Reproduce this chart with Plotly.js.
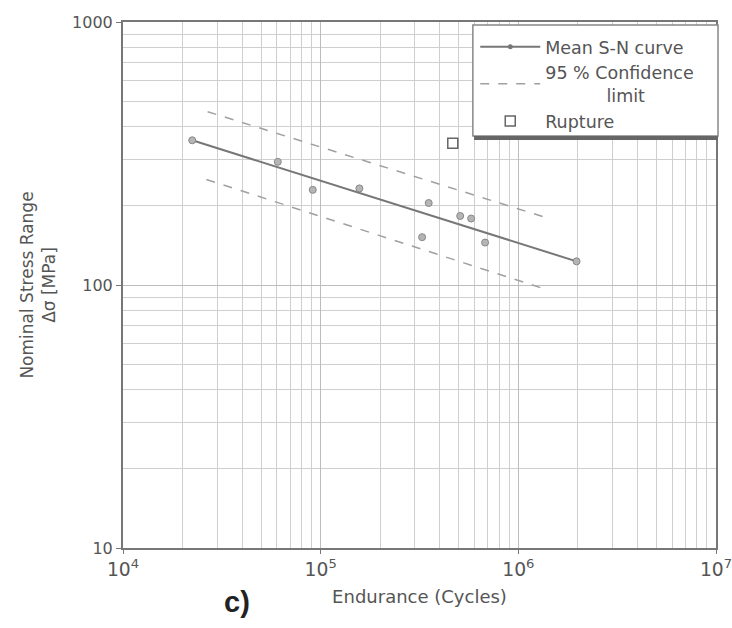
<!DOCTYPE html>
<html>
<head>
<meta charset="utf-8">
<script src="https://cdn.plot.ly/plotly-3.0.1.min.js"></script>
<style>html,body{margin:0;padding:0;background:#fff;}</style>
</head>
<body>
<div id="chart" style="width:732px;height:628px;"></div>
<script>
// Test data (endurance in cycles, stress range in MPa)
const dataCycles = [22400, 60700, 91200, 157000, 352000, 508000, 577000, 326000, 679000, 1970000];
const dataStress = [355, 294, 230, 233, 205, 183, 179, 152, 145, 123];
// Mean S-N curve
const meanCycles = [22400, 1970000];
const meanStress = [355, 123];
// 95 % confidence limits
const upperCycles = [26800, 1430000];
const upperStress = [456, 179];
const lowerCycles = [26400, 1390000];
const lowerStress = [252, 96];
// Rupture
const ruptureCycles = [466000];
const ruptureStress = [346];

const NB = '\u00a0';
const traces = [
  {x: meanCycles, y: meanStress, name: 'Mean S-N curve', mode: 'lines+markers',
   line: {color: '#777', width: 2}, marker: {size: 5, color: '#777'}},
  {x: upperCycles, y: upperStress, name: '95 % Confidence<br>' + NB.repeat(11) + 'limit', mode: 'lines',
   line: {color: '#a0a0a0', width: 1.5, dash: 'dash'}, legendgroup: 'ci'},
  {x: lowerCycles, y: lowerStress, name: 'lower', mode: 'lines', showlegend: false,
   line: {color: '#a0a0a0', width: 1.5, dash: 'dash'}, legendgroup: 'ci'},
  {x: ruptureCycles, y: ruptureStress, name: 'Rupture', mode: 'markers',
   marker: {symbol: 'square-open', size: 10, color: '#666', line: {width: 1.5}}},
  {x: dataCycles, y: dataStress, name: 'data', mode: 'markers', showlegend: false,
   marker: {symbol: 'circle', size: 7, color: '#b5b5b5', line: {color: '#888', width: 1}}}
];

const layout = {
  width: 732, height: 628,
  margin: {l: 123, r: 16, t: 22, b: 80},
  paper_bgcolor: '#fff', plot_bgcolor: '#fff',
  font: {family: 'DejaVu Sans, sans-serif', color: '#555', size: 16},
  showlegend: true,
  legend: {x: 0.594, y: 0.987, xanchor: 'left', yanchor: 'top',
    bgcolor: 'rgba(0,0,0,0)', borderwidth: 0, itemwidth: 60,
    font: {size: 17.5, color: '#555'}, tracegroupgap: 0},
  xaxis: {type: 'log', range: [4, 7], dtick: 1, exponentformat: 'power',
    showgrid: true, gridcolor: '#bdbdbd', gridwidth: 1,
    minor: {dtick: 'D1', showgrid: true, gridcolor: '#cfcfcf', ticks: ''},
    showline: true, linecolor: '#777', linewidth: 2, mirror: true,
    ticks: 'outside', ticklen: 4, tickcolor: '#777', ticklabeloverflow: 'allow',
    tickfont: {size: 15, color: '#555'}, zeroline: false,
    title: {text: 'Endurance (Cycles)', font: {size: 18, color: '#555'}, standoff: 12}},
  yaxis: {type: 'log', range: [1, 3], dtick: 1, exponentformat: 'none',
    showgrid: true, gridcolor: '#bdbdbd', gridwidth: 1,
    minor: {dtick: 'D1', showgrid: true, gridcolor: '#cfcfcf', ticks: ''},
    showline: true, linecolor: '#777', linewidth: 2, mirror: true,
    ticks: 'outside', ticklen: 5, tickcolor: '#777', ticklabeloverflow: 'allow',
    tickfont: {size: 16, color: '#555'}, zeroline: false,
    title: {text: 'Nominal Stress Range<br>Δσ [MPa]', font: {size: 17, color: '#555'}, standoff: 12}},
  shapes: [
    {type: 'rect', xref: 'paper', yref: 'paper', x0: 0.590, x1: 1.0034, y0: 0.7833, y1: 0.9943,
     fillcolor: '#fff', line: {color: '#888', width: 1.5}, layer: 'above'},
    {type: 'line', xref: 'paper', yref: 'paper', x0: 0.592, x1: 1.0034, y0: 0.7795, y1: 0.7795,
     line: {color: '#666', width: 4}, layer: 'above'}
  ],
  annotations: [
    {text: '<b>c)</b>', xref: 'paper', yref: 'paper', x: 0.193, y: -0.103,
     xanchor: 'center', yanchor: 'middle', showarrow: false,
     font: {size: 29, color: '#222', family: 'Liberation Sans, Arial, sans-serif'}}
  ]
};

Plotly.newPlot('chart', traces, layout, {displayModeBar: false, staticPlot: true});
</script>
</body>
</html>
